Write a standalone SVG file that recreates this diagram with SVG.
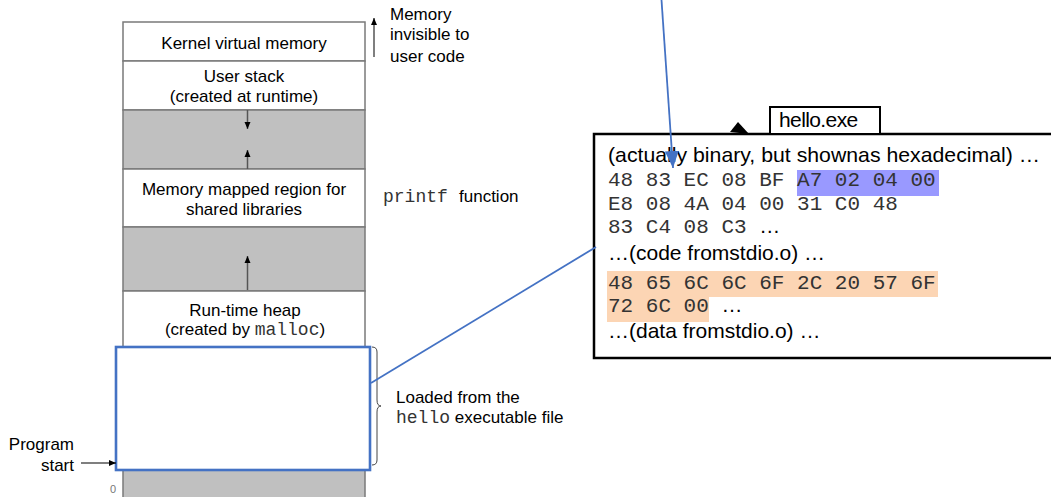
<svg xmlns="http://www.w3.org/2000/svg" width="1051" height="497" viewBox="0 0 1051 497">
<defs>
<marker id="ah" markerWidth="8" markerHeight="8" refX="7" refY="4" orient="auto" markerUnits="userSpaceOnUse"><path d="M0,1 L7,4 L0,7 Z" fill="#000"/></marker>
<marker id="bh" markerWidth="18" markerHeight="14" refX="17" refY="7" orient="auto" markerUnits="userSpaceOnUse"><path d="M0,0 L17,7 L0,14 Z" fill="#4472C4"/></marker>
</defs>
<style>
.s{font-family:"Liberation Sans",Arial,sans-serif;font-size:17px;fill:#000}
.m{font-family:"Liberation Mono","Courier New",monospace;fill:#333}
.b{font-family:"Liberation Sans",Arial,sans-serif;font-size:21px;fill:#000}
.hx{font-family:"Liberation Mono","Courier New",monospace;font-size:21px;fill:#333}
.cell{stroke:#7a7a7a;stroke-width:1.5}
.w{fill:#fff}
.g{fill:#c0c0c0}
.arr{stroke:#555;stroke-width:1.5;fill:none}
.blue{stroke:#4472C4;stroke-width:1.8;fill:none}
</style>
<rect width="1051" height="497" fill="#fff"/>

<g id="kernel">
<rect class="cell w" x="123" y="22" width="242" height="39"/>
<text class="s" x="244" y="49" text-anchor="middle">Kernel virtual memory</text>
</g>
<g id="user-stack">
<rect class="cell w" x="123" y="61" width="242" height="49"/>
<text class="s" x="244" y="82" text-anchor="middle">User stack</text>
<text class="s" x="244" y="102" text-anchor="middle">(created at runtime)</text>
</g>
<g id="gap1">
<rect class="cell g" x="123" y="110" width="242" height="59"/>
</g>
<g id="mmap">
<rect class="cell w" x="123" y="169" width="242" height="58"/>
<text class="s" x="244" y="195" text-anchor="middle">Memory mapped  region for</text>
<text class="s" x="244" y="215" text-anchor="middle">shared libraries</text>
</g>
<g id="gap2">
<rect class="cell g" x="123" y="227" width="242" height="64"/>
</g>
<g id="heap">
<rect class="cell w" x="123" y="291" width="242" height="70"/>
<text class="s" x="245" y="316" text-anchor="middle">Run-time  heap</text>
<text class="s" x="245" y="335" text-anchor="middle">(created by <tspan class="m" font-size="18">malloc</tspan>)</text>
</g>
<g id="bottom">
<rect class="cell g" x="123" y="460" width="242" height="40"/>
<text x="113" y="493" font-family="Liberation Sans,Arial,sans-serif" font-size="11" fill="#777" text-anchor="middle">0</text>
</g>
<g id="loaded">
<rect x="116" y="347" width="254" height="123" fill="#fff" stroke="#4472C4" stroke-width="2.6"/>
<path d="M372,347 q5,0 5,5 v48 q0,6 4,6 q-4,0 -4,6 v48 q0,5 -5,5" fill="none" stroke="#444" stroke-width="1"/>
<text class="s" x="396" y="403">Loaded from the</text>
<text class="s" x="396" y="423"><tspan class="m" font-size="18">hello</tspan> executable file</text>
</g>
<g id="invisible">
<text class="s" x="390" y="20">Memory</text>
<text class="s" x="390" y="40">invisible to</text>
<text class="s" x="390" y="62">user code</text>
</g>
<g id="printf">
<text class="m" x="383" y="202" font-size="18">printf</text>
<text class="s" x="459" y="202">function</text>
</g>
<g id="program-start">
<text class="s" x="74" y="450" text-anchor="end">Program</text>
<text class="s" x="74" y="471" text-anchor="end">start</text>
</g>

<g id="hello-exe">
<rect x="594" y="134" width="470" height="224" fill="#fff" stroke="#000" stroke-width="2.5"/>
<rect x="770" y="107" width="110" height="27" fill="#fff" stroke="#000" stroke-width="2"/>
<text class="b" x="779" y="127" letter-spacing="-0.6">hello.exe</text>
<polygon points="738,122 730,132 749,134" fill="#000"/>
<rect x="797" y="170" width="142" height="26" fill="#9999FF"/>
<rect x="607" y="271" width="331" height="26" fill="#FCD5B4"/>
<rect x="607" y="297" width="102" height="25" fill="#FCD5B4"/>
<text class="b" x="608" y="162" textLength="432" lengthAdjust="spacingAndGlyphs">(actually binary, but shownas hexadecimal) …</text>
<text class="hx" x="608" y="186">48 83 EC 08 BF A7 02 04 00</text>
<text class="hx" x="608" y="210">E8 08 4A 04 00 31 C0 48</text>
<text class="hx" x="608" y="233">83 C4 08 C3 <tspan class="b">…</tspan></text>
<text class="b" x="608" y="260">…(code fromstdio.o) …</text>
<text class="hx" x="608" y="289">48 65 6C 6C 6F 2C 20 57 6F</text>
<text class="hx" x="608" y="312">72 6C 00 <tspan class="b">…</tspan></text>
<text class="b" x="608" y="338">…(data fromstdio.o) …</text>
</g>

<g id="connectors">
<line class="arr" x1="374" y1="57" x2="374" y2="18" marker-end="url(#ah)"/>
<line class="arr" x1="247.5" y1="110" x2="247.5" y2="129" marker-end="url(#ah)"/>
<line class="arr" x1="247.5" y1="169" x2="247.5" y2="150" marker-end="url(#ah)"/>
<line class="arr" x1="247.5" y1="290" x2="247.5" y2="256" marker-end="url(#ah)"/>
<line x1="81" y1="463" x2="116" y2="463" stroke="#000" stroke-width="1.2" marker-end="url(#ah)"/>
<line class="blue" x1="661.5" y1="0" x2="673" y2="168" marker-end="url(#bh)"/>
<line class="blue" x1="596" y1="247" x2="371" y2="383"/>
</g>
</svg>
